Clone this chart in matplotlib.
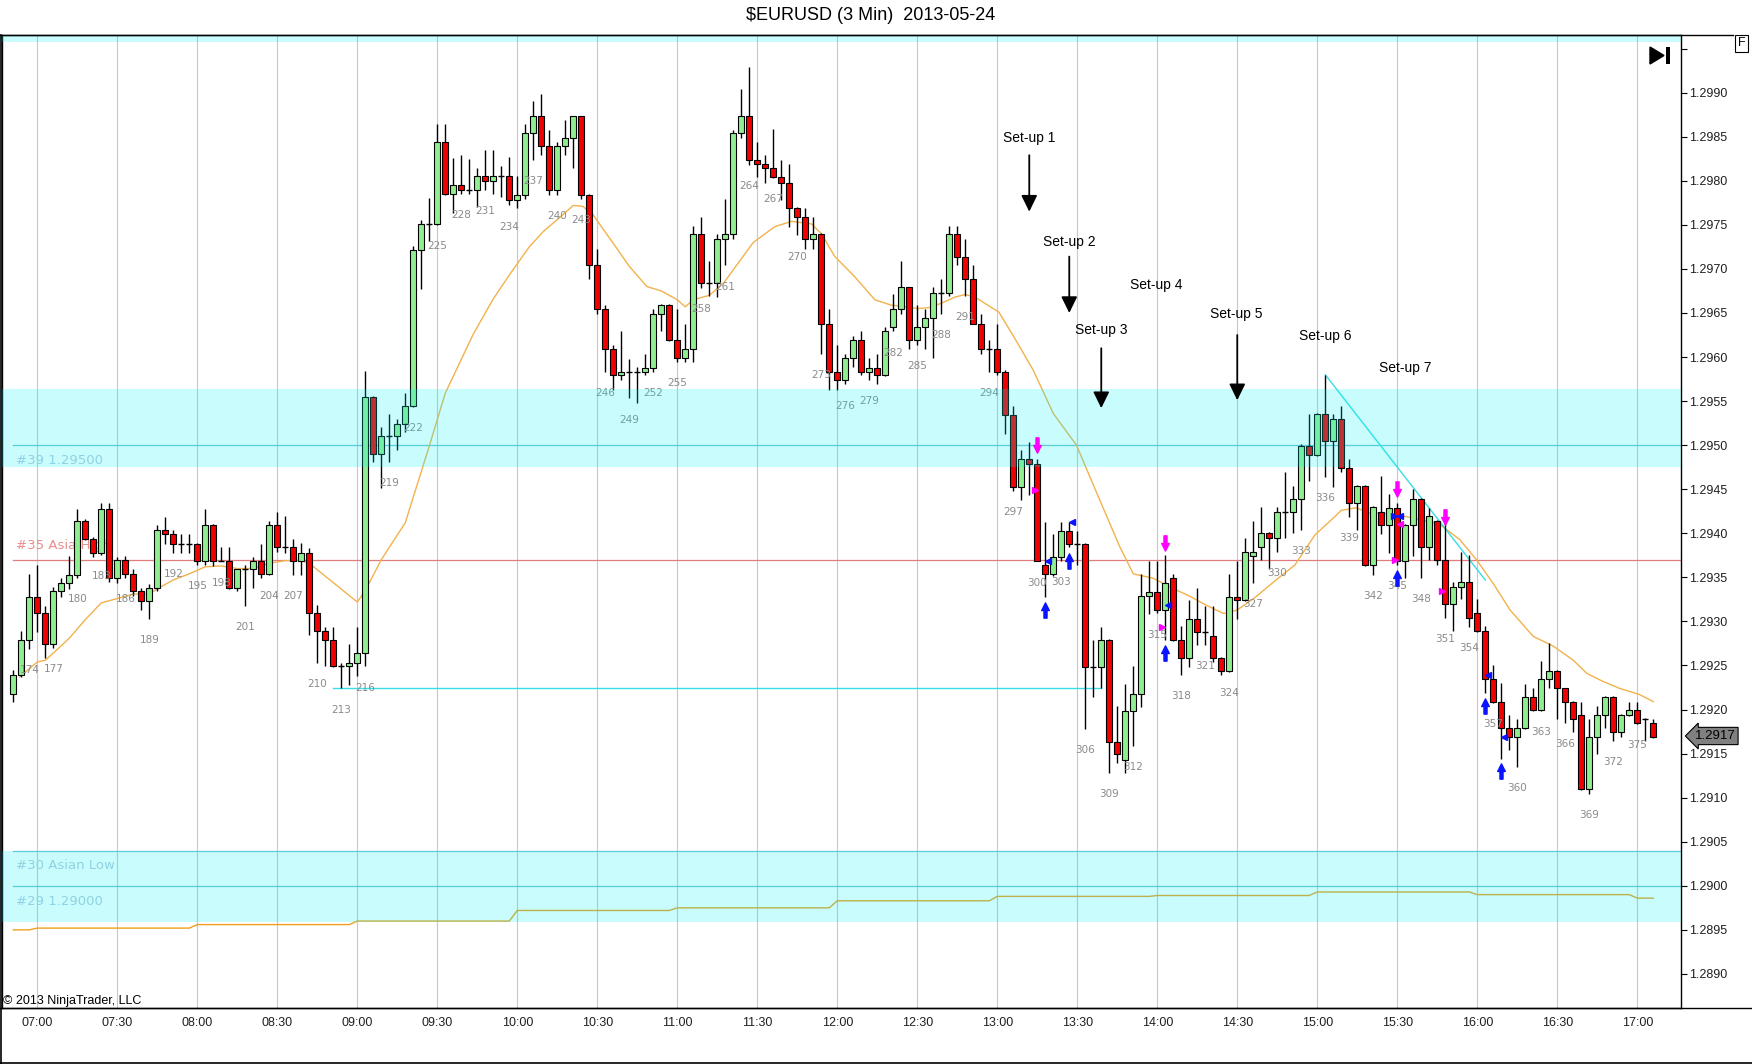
import numpy as np
import matplotlib
matplotlib.use("Agg")
import matplotlib.pyplot as plt
import matplotlib.transforms as mtrans
from matplotlib.path import Path
from matplotlib.lines import Line2D
from matplotlib.patches import Polygon, Rectangle

plt.rcParams["font.family"] = ["Liberation Sans", "DejaVu Sans"]

#### bar data (3 min bars, bar number of first bar)
first_bar = 172
opens = [
    1.29218, 1.29239, 1.29279, 1.29328, 1.29309, 1.29274, 1.29334, 1.29344, 1.29353, 1.29414,
    1.29394, 1.29378, 1.29428, 1.29349, 1.29370, 1.29354, 1.29334, 1.29323, 1.29338, 1.29404,
    1.29399, 1.29388, 1.29388, 1.29388, 1.29369, 1.29409, 1.29369, 1.29369, 1.29338, 1.29359,
    1.29359, 1.29369, 1.29354, 1.29409, 1.29384, 1.29384, 1.29369, 1.29378, 1.29309, 1.29289,
    1.29279, 1.29249, 1.29249, 1.29253, 1.29264, 1.29555, 1.29490, 1.29510, 1.29510, 1.29524,
    1.29544, 1.29721, 1.29751, 1.29751, 1.29844, 1.29785, 1.29795, 1.29790, 1.29790, 1.29805,
    1.29800, 1.29805, 1.29805, 1.29778, 1.29784, 1.29854, 1.29873, 1.29839, 1.29790, 1.29839,
    1.29848, 1.29873, 1.29784, 1.29704, 1.29654, 1.29609, 1.29580, 1.29583, 1.29583, 1.29583,
    1.29588, 1.29649, 1.29659, 1.29619, 1.29599, 1.29609, 1.29740, 1.29684, 1.29684, 1.29734,
    1.29740, 1.29854, 1.29873, 1.29824, 1.29819, 1.29814, 1.29804, 1.29798, 1.29769, 1.29759,
    1.29734, 1.29740, 1.29638, 1.29583, 1.29574, 1.29599, 1.29619, 1.29583, 1.29588, 1.29580,
    1.29634, 1.29654, 1.29679, 1.29619, 1.29634, 1.29644, 1.29673, 1.29673, 1.29740, 1.29714,
    1.29689, 1.29638, 1.29609, 1.29609, 1.29583, 1.29534, 1.29453, 1.29484, 1.29479, 1.29364,
    1.29354, 1.29373, 1.29403, 1.29388, 1.29388, 1.29248, 1.29248, 1.29279, 1.29163, 1.29143,
    1.29198, 1.29218, 1.29329, 1.29333, 1.29313, 1.29349, 1.29279, 1.29259, 1.29303, 1.29288,
    1.29284, 1.29259, 1.29244, 1.29328, 1.29324, 1.29374, 1.29384, 1.29400, 1.29395, 1.29424,
    1.29424, 1.29439, 1.29499, 1.29489, 1.29535, 1.29505, 1.29530, 1.29474, 1.29434, 1.29454,
    1.29364, 1.29424, 1.29409, 1.29429, 1.29369, 1.29409, 1.29439, 1.29384, 1.29414, 1.29370,
    1.29320, 1.29339, 1.29345, 1.29309, 1.29289, 1.29235, 1.29209, 1.29179, 1.29169, 1.29179,
    1.29214, 1.29199, 1.29235, 1.29244, 1.29224, 1.29209, 1.29194, 1.29110, 1.29169, 1.29194,
    1.29214, 1.29174, 1.29194, 1.29199, 1.29189, 1.29185]
highs = [
    1.29245, 1.29289, 1.29354, 1.29364, 1.29317, 1.29339, 1.29349, 1.29374, 1.29428, 1.29416,
    1.29396, 1.29434, 1.29434, 1.29373, 1.29374, 1.29359, 1.29338, 1.29342, 1.29409, 1.29419,
    1.29404, 1.29399, 1.29399, 1.29389, 1.29428, 1.29410, 1.29385, 1.29385, 1.29360, 1.29364,
    1.29373, 1.29388, 1.29414, 1.29424, 1.29420, 1.29393, 1.29389, 1.29383, 1.29319, 1.29294,
    1.29294, 1.29253, 1.29274, 1.29294, 1.29584, 1.29556, 1.29521, 1.29535, 1.29530, 1.29559,
    1.29726, 1.29756, 1.29780, 1.29864, 1.29864, 1.29826, 1.29829, 1.29825, 1.29815, 1.29835,
    1.29835, 1.29817, 1.29827, 1.29805, 1.29865, 1.29890, 1.29899, 1.29858, 1.29844, 1.29869,
    1.29874, 1.29874, 1.29785, 1.29723, 1.29659, 1.29614, 1.29629, 1.29598, 1.29589, 1.29604,
    1.29654, 1.29660, 1.29660, 1.29654, 1.29638, 1.29749, 1.29759, 1.29709, 1.29740, 1.29779,
    1.29858, 1.29904, 1.29929, 1.29844, 1.29829, 1.29859, 1.29824, 1.29819, 1.29770, 1.29769,
    1.29759, 1.29741, 1.29654, 1.29614, 1.29604, 1.29624, 1.29629, 1.29599, 1.29604, 1.29634,
    1.29672, 1.29709, 1.29680, 1.29659, 1.29654, 1.29679, 1.29689, 1.29749, 1.29749, 1.29734,
    1.29704, 1.29649, 1.29619, 1.29638, 1.29585, 1.29544, 1.29494, 1.29504, 1.29484, 1.29413,
    1.29399, 1.29413, 1.29413, 1.29403, 1.29389, 1.29279, 1.29294, 1.29280, 1.29204, 1.29229,
    1.29249, 1.29354, 1.29369, 1.29369, 1.29375, 1.29354, 1.29295, 1.29324, 1.29338, 1.29318,
    1.29318, 1.29260, 1.29354, 1.29369, 1.29395, 1.29414, 1.29430, 1.29401, 1.29430, 1.29470,
    1.29454, 1.29501, 1.29535, 1.29536, 1.29580, 1.29535, 1.29545, 1.29484, 1.29455, 1.29455,
    1.29431, 1.29465, 1.29445, 1.29434, 1.29410, 1.29450, 1.29440, 1.29429, 1.29415, 1.29414,
    1.29345, 1.29379, 1.29375, 1.29325, 1.29295, 1.29250, 1.29230, 1.29194, 1.29189, 1.29229,
    1.29224, 1.29255, 1.29275, 1.29245, 1.29225, 1.29210, 1.29209, 1.29189, 1.29204, 1.29215,
    1.29215, 1.29195, 1.29209, 1.29209, 1.29190, 1.29189]
lows = [
    1.29209, 1.29237, 1.29269, 1.29288, 1.29259, 1.29270, 1.29328, 1.29337, 1.29349, 1.29392,
    1.29373, 1.29375, 1.29345, 1.29344, 1.29349, 1.29329, 1.29313, 1.29303, 1.29335, 1.29388,
    1.29378, 1.29378, 1.29378, 1.29364, 1.29364, 1.29363, 1.29368, 1.29337, 1.29334, 1.29318,
    1.29338, 1.29349, 1.29353, 1.29379, 1.29378, 1.29353, 1.29353, 1.29285, 1.29253, 1.29249,
    1.29248, 1.29224, 1.29228, 1.29238, 1.29249, 1.29481, 1.29451, 1.29481, 1.29495, 1.29515,
    1.29543, 1.29677, 1.29732, 1.29750, 1.29784, 1.29764, 1.29785, 1.29785, 1.29770, 1.29790,
    1.29785, 1.29782, 1.29772, 1.29769, 1.29779, 1.29824, 1.29829, 1.29784, 1.29784, 1.29829,
    1.29814, 1.29779, 1.29689, 1.29649, 1.29583, 1.29563, 1.29574, 1.29553, 1.29548, 1.29580,
    1.29583, 1.29629, 1.29618, 1.29594, 1.29594, 1.29594, 1.29678, 1.29669, 1.29668, 1.29704,
    1.29734, 1.29848, 1.29818, 1.29804, 1.29798, 1.29803, 1.29778, 1.29748, 1.29738, 1.29723,
    1.29723, 1.29604, 1.29563, 1.29563, 1.29569, 1.29589, 1.29580, 1.29574, 1.29569, 1.29579,
    1.29629, 1.29649, 1.29609, 1.29614, 1.29609, 1.29599, 1.29649, 1.29669, 1.29704, 1.29669,
    1.29637, 1.29604, 1.29583, 1.29580, 1.29513, 1.29448, 1.29438, 1.29443, 1.29368, 1.29328,
    1.29351, 1.29369, 1.29385, 1.29364, 1.29178, 1.29214, 1.29224, 1.29128, 1.29139, 1.29128,
    1.29159, 1.29203, 1.29308, 1.29309, 1.29279, 1.29278, 1.29239, 1.29248, 1.29273, 1.29273,
    1.29254, 1.29239, 1.29243, 1.29303, 1.29323, 1.29344, 1.29370, 1.29359, 1.29379, 1.29395,
    1.29400, 1.29404, 1.29459, 1.29488, 1.29464, 1.29453, 1.29469, 1.29419, 1.29404, 1.29363,
    1.29353, 1.29399, 1.29378, 1.29364, 1.29349, 1.29374, 1.29349, 1.29370, 1.29364, 1.29304,
    1.29289, 1.29325, 1.29294, 1.29288, 1.29219, 1.29208, 1.29144, 1.29154, 1.29135, 1.29178,
    1.29198, 1.29198, 1.29224, 1.29189, 1.29185, 1.29174, 1.29109, 1.29104, 1.29149, 1.29179,
    1.29164, 1.29169, 1.29193, 1.29184, 1.29164, 1.29168]
closes = [
    1.29239, 1.29279, 1.29328, 1.29309, 1.29274, 1.29334, 1.29344, 1.29353, 1.29414, 1.29394,
    1.29378, 1.29428, 1.29349, 1.29370, 1.29354, 1.29334, 1.29323, 1.29338, 1.29404, 1.29399,
    1.29388, 1.29388, 1.29388, 1.29369, 1.29409, 1.29369, 1.29369, 1.29338, 1.29359, 1.29359,
    1.29369, 1.29354, 1.29409, 1.29384, 1.29384, 1.29369, 1.29378, 1.29309, 1.29289, 1.29279,
    1.29249, 1.29249, 1.29253, 1.29264, 1.29555, 1.29490, 1.29510, 1.29510, 1.29524, 1.29544,
    1.29721, 1.29751, 1.29751, 1.29844, 1.29785, 1.29795, 1.29790, 1.29790, 1.29805, 1.29800,
    1.29805, 1.29805, 1.29778, 1.29784, 1.29854, 1.29873, 1.29839, 1.29790, 1.29839, 1.29848,
    1.29873, 1.29784, 1.29704, 1.29654, 1.29609, 1.29580, 1.29583, 1.29583, 1.29583, 1.29588,
    1.29649, 1.29659, 1.29619, 1.29599, 1.29609, 1.29740, 1.29684, 1.29684, 1.29734, 1.29740,
    1.29854, 1.29873, 1.29824, 1.29819, 1.29814, 1.29804, 1.29798, 1.29769, 1.29759, 1.29734,
    1.29740, 1.29638, 1.29583, 1.29574, 1.29599, 1.29619, 1.29583, 1.29588, 1.29580, 1.29629,
    1.29654, 1.29679, 1.29619, 1.29634, 1.29644, 1.29673, 1.29673, 1.29740, 1.29714, 1.29689,
    1.29638, 1.29609, 1.29609, 1.29583, 1.29534, 1.29453, 1.29484, 1.29479, 1.29369, 1.29354,
    1.29373, 1.29403, 1.29388, 1.29388, 1.29248, 1.29248, 1.29279, 1.29163, 1.29149, 1.29198,
    1.29218, 1.29329, 1.29333, 1.29313, 1.29344, 1.29279, 1.29259, 1.29303, 1.29288, 1.29288,
    1.29259, 1.29244, 1.29328, 1.29324, 1.29379, 1.29379, 1.29400, 1.29395, 1.29424, 1.29424,
    1.29439, 1.29499, 1.29489, 1.29535, 1.29505, 1.29530, 1.29474, 1.29434, 1.29454, 1.29364,
    1.29430, 1.29409, 1.29429, 1.29369, 1.29409, 1.29439, 1.29384, 1.29420, 1.29370, 1.29320,
    1.29339, 1.29345, 1.29304, 1.29289, 1.29235, 1.29209, 1.29179, 1.29169, 1.29179, 1.29214,
    1.29199, 1.29235, 1.29244, 1.29224, 1.29209, 1.29189, 1.29110, 1.29169, 1.29194, 1.29214,
    1.29174, 1.29194, 1.29199, 1.29185, 1.29189, 1.29169]

#### x axis: bar 175 = 07:00, one label every 10 bars
tick_first_bar = 175
time_labels = ["07:00", "07:30", "08:00", "08:30", "09:00", "09:30", "10:00", "10:30",
               "11:00", "11:30", "12:00", "12:30", "13:00", "13:30", "14:00", "14:30",
               "15:00", "15:30", "16:00", "16:30", "17:00"]

#### moving average (orange)
ema_bar = [172.8, 175, 176, 177, 179, 181, 183, 185, 187, 189, 190, 192, 194, 196, 198, 200,
           202, 204, 206, 208, 209, 215, 216, 218, 221, 224, 226, 229.5, 232, 234, 236.5,
           238.2, 240, 242, 243.2, 244.5, 247, 249, 251.2, 253, 255, 256, 257, 259, 260.8,
           262.4, 264.5, 267.2, 269.3, 271.8, 273, 274.7, 277.2, 279.7, 281.7, 283.5, 285.1,
           286.4, 288, 289.7, 291, 292.2, 295.2, 297.2, 299.5, 302, 304.9, 307.8, 310.3, 312,
           314.5, 316.6, 319.2, 321.2, 323.3, 325, 327.2, 329.7, 332.2, 334.7, 337.2, 338,
           339.9, 341.4, 344.3, 347.2, 350.3, 352.8, 354.9, 357, 359.1, 362, 364.5, 367,
           368.7, 370.7, 372.8, 375.3, 377]
ema_price = [1.29237, 1.29254, 1.29256, 1.29264, 1.29281, 1.29302, 1.29321, 1.29326, 1.29331,
             1.29331, 1.29337, 1.29347, 1.29354, 1.29362, 1.29363, 1.29360, 1.29360, 1.29366,
             1.29369, 1.29369, 1.29366, 1.29322, 1.29335, 1.29370, 1.29412, 1.29499, 1.29559,
             1.29626, 1.29666, 1.29693, 1.29725, 1.29742, 1.29756, 1.29772, 1.29771, 1.29761,
             1.29729, 1.29703, 1.29680, 1.29675, 1.29665, 1.29657, 1.29665, 1.29670, 1.29684,
             1.29704, 1.29730, 1.29748, 1.29754, 1.29751, 1.29740, 1.29714, 1.29691, 1.29665,
             1.29659, 1.29657, 1.29655, 1.29656, 1.29661, 1.29668, 1.29671, 1.29668, 1.29651,
             1.29621, 1.29585, 1.29536, 1.29500, 1.29438, 1.29385, 1.29354, 1.29349, 1.29339,
             1.29328, 1.29318, 1.29309, 1.29313, 1.29327, 1.29346, 1.29364, 1.29398, 1.29419,
             1.29426, 1.29429, 1.29423, 1.29422, 1.29417, 1.29410, 1.29393, 1.29370, 1.29343,
             1.29313, 1.29283, 1.29272, 1.29256, 1.29241, 1.29232, 1.29224, 1.29217, 1.29209]

#### hourly step line near 1.2895
step_start = [172, 175, 195, 215, 235, 255, 275, 295, 315, 335, 355, 375]
step_end = [174, 194, 214, 234, 254, 274, 294, 314, 334, 354, 374, 377]
step_price = [1.28950, 1.28952, 1.28956, 1.28960, 1.28972, 1.28975, 1.28983, 1.28988,
              1.28989, 1.28993, 1.28990, 1.28986]

#### zones and levels
zone_low = [1.29475, 1.28959, 1.29957]
zone_high = [1.29564, 1.29040, 1.30050]
level_price = [1.29500, 1.29370, 1.29040, 1.29000]
level_text = ["#39 1.29500", "#35 Asia High", "#30 Asian Low", "#29 1.29000"]
level_text_price = [1.29490, 1.29379, 1.29030, 1.28990]
level_color = ["#6fc3d6", "#e07c7c", "#6fc3d6", "#6fc3d6"]
level_text_color = ["#8fd2e4", "#ea8c8c", "#8fd2e4", "#8fd2e4"]

#### drawn lines
flat_bars = [212, 308]
flat_price = [1.29224, 1.29224]
trend_bars = [336, 356]
trend_price = [1.29580, 1.29347]

#### set-up notes
setup_text = ["Set-up 1", "Set-up 2", "Set-up 3", "Set-up 4", "Set-up 5", "Set-up 6", "Set-up 7"]
setup_bar = [299.0, 304.0, 308.0, 314.9, 324.9, 336.0, 346.0]
setup_price = [1.29848, 1.29731, 1.29631, 1.29682, 1.29649, 1.29624, 1.29588]
arrow_bar = [299.0, 304.0, 308.0, 325.0]
arrow_top = [1.29829, 1.29714, 1.29610, 1.29625]
arrow_tip = [1.29765, 1.29650, 1.29542, 1.29551]

#### signal markers
sell_bar = [300, 316, 345, 351]
sell_price = [1.29500, 1.29389, 1.29450, 1.29419]
buy_bar = [301, 304, 316, 345, 356, 358]
buy_price = [1.29313, 1.29369, 1.29264, 1.29349, 1.29204, 1.29130]
blue_left_bar = [301.4, 304.3, 316.3, 345.4, 356.4, 358.3]
blue_left_price = [1.29369, 1.29413, 1.29319, 1.29420, 1.29239, 1.29169]
blue_right_bar = [344.6]
blue_right_price = [1.29420]
pink_right_bar = [299.7, 315.6, 344.7, 350.6]
pink_right_price = [1.29449, 1.29294, 1.29370, 1.29335]
pink_left_bar = [345.3]
pink_left_price = [1.29410]

last_price = 1.2917

W, H = 1752, 1064
def fx(px):
    return px / W
def fy(py):
    return 1 - py / H

fig = plt.figure(figsize=(W / 100, H / 100), dpi=100)
ax = fig.add_axes([fx(2), fy(1008.3), fx(1680.7) - fx(2), fy(34.5) - fy(1008.3)])
ax.set_xlim(170.59, 380.43)
ax.set_ylim(1.28861, 1.29966)

bars = first_bar + np.arange(len(opens))
o = np.array(opens)
h = np.array(highs)
l = np.array(lows)
c = np.array(closes)

## grid
grid_bars = tick_first_bar + 10 * np.arange(len(time_labels))
ax.set_xticks(grid_bars)
ax.set_xticklabels(time_labels)
ax.grid(axis="x", color="#c8c8c8", lw=0.8, zorder=0)
ax.set_axisbelow(True)

## zones
for lo, hi in zip(zone_low, zone_high):
    ax.axhspan(lo, hi, color="#00f4f4", alpha=0.21, lw=0, zorder=5)

## levels
for p, txt, tp, lc, tc in zip(level_price, level_text, level_text_price, level_color, level_text_color):
    ax.plot([first_bar, 380.43], [p, p], color=lc, lw=0.9, zorder=1.5)
    z = 2.5 if "Asia High" in txt else 6
    ax.text(172.35, tp, txt, color=tc, fontsize=9.5, family="DejaVu Sans",
            va="top" if tp < p else "bottom", ha="left", zorder=z)

## averages
ax.plot(ema_bar, ema_price, color="#f2b24c", lw=1.0, zorder=2)
sx, sy = [], []
for a, b, p in zip(step_start, step_end, step_price):
    sx += [a, b]
    sy += [p, p]
ax.plot(sx, sy, color="#f0a020", lw=1.0, zorder=2)

## drawn cyan lines
ax.plot(flat_bars, flat_price, color="#38dde6", lw=1.0, zorder=2.2)
ax.plot(trend_bars, trend_price, color="#38dde6", lw=1.0, zorder=2.2)

## candles
ax.vlines(bars, l, h, color="black", lw=1.0, zorder=3)
up = c > o
dn = c < o
eq = c == o
ax.bar(bars[up], (c - o)[up], bottom=o[up], width=0.75, color="#90ee90",
       edgecolor="black", lw=0.8, zorder=4)
ax.bar(bars[dn], (o - c)[dn], bottom=c[dn], width=0.75, color="#f00000",
       edgecolor="black", lw=0.8, zorder=4)
ax.hlines(o[eq], bars[eq] - 0.4, bars[eq] + 0.4, color="black", lw=1.0, zorder=4)

## bar numbers
for n, low in zip(bars, l):
    if n % 3 == 0:
        ax.text(n, low - 0.00024, str(n), ha="center", va="center", fontsize=7.5,
                family="DejaVu Sans", color="#8a8a8a", zorder=4.5)

## markers
down_arrow = Path([(-0.2, 1), (0.2, 1), (0.2, 0), (0.5, 0), (0, -1), (-0.5, 0), (-0.2, 0), (-0.2, 1)],
                  [Path.MOVETO] + [Path.LINETO] * 6 + [Path.CLOSEPOLY])
up_arrow = Path([(-0.2, -1), (0.2, -1), (0.2, 0), (0.5, 0), (0, 1), (-0.5, 0), (-0.2, 0), (-0.2, -1)],
                [Path.MOVETO] + [Path.LINETO] * 6 + [Path.CLOSEPOLY])
ax.plot(sell_bar, sell_price, ls="none", marker=down_arrow, ms=11, color="#ff00ff", zorder=7)
ax.plot(buy_bar, buy_price, ls="none", marker=up_arrow, ms=11, color="#0a14ff", zorder=7)
ax.plot(blue_left_bar, blue_left_price, ls="none", marker="<", ms=4.5, color="#0a14ff", zorder=7)
ax.plot(blue_right_bar, blue_right_price, ls="none", marker=">", ms=4.5, color="#0a14ff", zorder=7)
ax.plot(pink_right_bar, pink_right_price, ls="none", marker=">", ms=4.5, color="#ff00ff", zorder=7)
ax.plot(pink_left_bar, pink_left_price, ls="none", marker="<", ms=4.5, color="#ff00ff", zorder=7)

## set-ups
for txt, b, p in zip(setup_text, setup_bar, setup_price):
    ax.text(b, p, txt, ha="center", va="center", fontsize=10, color="black", zorder=8)
for b, t0, t1 in zip(arrow_bar, arrow_top, arrow_tip):
    ax.annotate("", xy=(b, t1), xytext=(b, t0),
                arrowprops=dict(arrowstyle="-|>,head_length=0.55,head_width=0.27",
                                mutation_scale=18, lw=1.3, color="black",
                                shrinkA=0, shrinkB=0), zorder=8)

## axes style
ax.yaxis.tick_right()
yt = np.round(np.arange(1.2890, 1.29951, 0.0005), 4)
ax.set_yticks(yt)
ax.set_yticklabels(["%.4f" % v if v < 1.29925 else "" for v in yt])
ax.tick_params(axis="y", length=4.3, width=0.8, pad=1.5, labelsize=9, colors="black",
               labelcolor="#202020")
ax.tick_params(axis="x", length=0, pad=6.5, labelsize=9, labelcolor="#202020")
for s in ax.spines.values():
    s.set_color("black")
    s.set_linewidth(1.0)

## last price marker
trans = mtrans.blended_transform_factory(ax.transAxes, ax.transData)
ax.text(1.0 + 14 / 1678.7, last_price, "%.4f" % last_price, transform=trans, ha="left",
        va="center", fontsize=9.5, color="black", clip_on=False, zorder=10,
        bbox=dict(boxstyle="larrow,pad=0.2", fc="#808080", ec="black", lw=0.8))

## frame, title, misc
fig.add_artist(Line2D([0, fx(1733)], [fy(34.5), fy(34.5)], color="black", lw=1.0))
fig.add_artist(Line2D([fx(0.5), fx(0.5)], [0, fy(34.5)], color="black", lw=1.2))
fig.add_artist(Line2D([0, 1], [fy(1063.3), fy(1063.3)], color="black", lw=1.2))
fig.add_artist(Line2D([0, 1], [fy(1008.3), fy(1008.3)], color="black", lw=1.0))

fig.text(fx(871), fy(16), "\\$EURUSD (3 Min)  2013-05-24", ha="center", va="center",
         fontsize=13, color="black")
fig.text(fx(3), fy(1000.7), "\u00a9 2013 NinjaTrader, LLC", ha="left", va="center",
         fontsize=9, color="black")
fig.text(fx(1741.5), fy(43.5), "F", ha="center", va="center", fontsize=9, color="black",
         bbox=dict(boxstyle="square,pad=0.2", fc="white", ec="black", lw=0.8))
fig.add_artist(Polygon([(fx(1650), fy(47)), (fx(1650), fy(64)), (fx(1664), fy(55.5))],
                       closed=True, fc="black", ec="black", transform=fig.transFigure))
fig.add_artist(Rectangle((fx(1666), fy(64)), fx(4), fy(47) - fy(64), fc="black", ec="none",
                         transform=fig.transFigure))

fig.savefig("out.png", dpi=100, facecolor="white")
